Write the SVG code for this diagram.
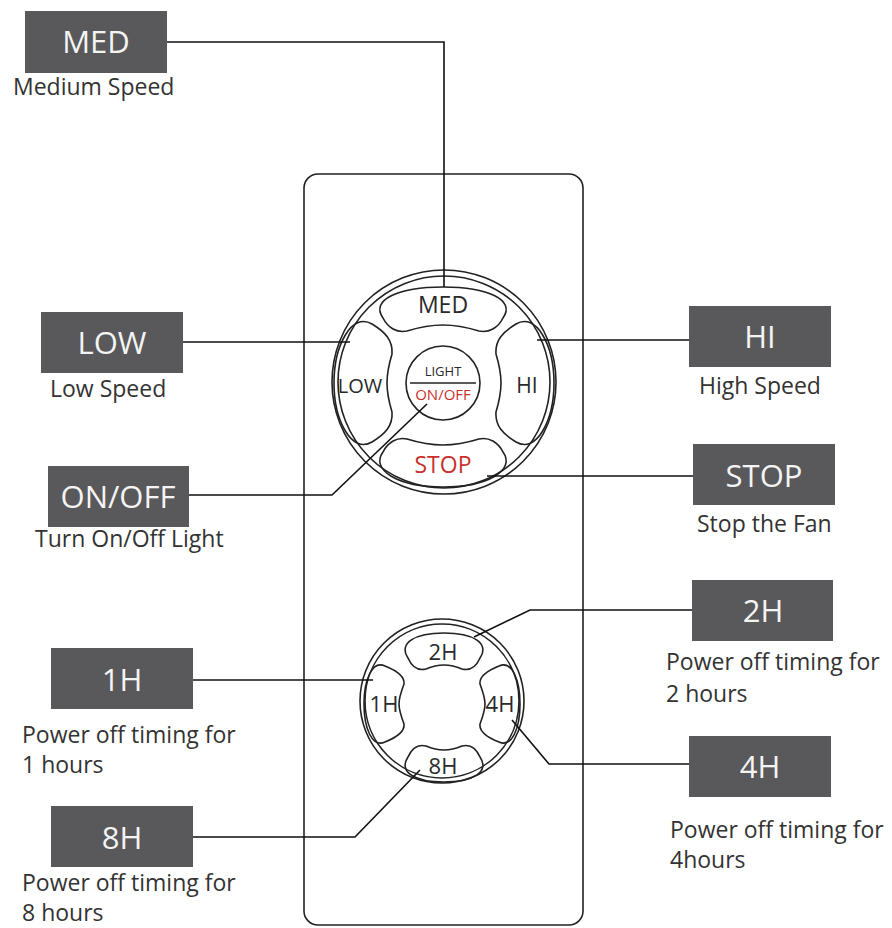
<svg xmlns="http://www.w3.org/2000/svg" width="892" height="928" viewBox="0 0 892 928">
<style>
.box{fill:#59595b}
.bt{font-family:"Open Sans","Liberation Sans",sans-serif;font-size:31px;fill:#f4f4f4;text-anchor:middle}
.ds{font-family:"Open Sans","Liberation Sans",sans-serif;font-size:23px;fill:#333333}
.ln{fill:none;stroke:#111111;stroke-width:1.6}
.sh{fill:none;stroke:#222222;stroke-width:1.6}
.kt{font-family:"Open Sans","Liberation Sans",sans-serif;fill:#2a2a2a;text-anchor:middle}
.red{fill:#c9302c}
</style>
<rect width="892" height="928" fill="#ffffff"/>
<g id="remote">
<rect x="304" y="174" width="279" height="751" rx="14" class="sh" stroke-width="2"/>
<g id="upper-ring">
<circle cx="444" cy="382" r="112" class="sh"/>
<circle cx="444" cy="382" r="106" class="sh"/>
</g>
<g id="btn-med">
<path class="sh" d="M383,318 C370,300 398,287 443,287 C488,287 516,300 503,318 C498,328 489,333 479,331 C466,327 455,325 443,325 C431,325 420,327 407,331 C397,333 388,328 383,318 Z"/>
<text class="kt" x="443" y="313" font-size="23">MED</text>
</g>
<g id="btn-stop">
<path class="sh" d="M383,452 C388,442 397,437 407,439 C420,443 431,445 443,445 C455,445 466,443 479,439 C489,437 498,442 503,452 C516,470 488,487 443,487 C398,487 370,470 383,452 Z"/>
<text class="kt red" x="443" y="473" font-size="23">STOP</text>
</g>
<g id="btn-low">
<path class="sh" d="M372,324 C352,312 334,345 334,383 C334,421 352,454 372,442 C385,434 393,426 392,412 C389,402 387,393 387,383 C387,373 389,364 392,354 C393,340 385,332 372,324 Z"/>
<text class="kt" x="360" y="393" font-size="20">LOW</text>
</g>
<g id="btn-hi">
<path class="sh" d="M516,324 C536,312 554,345 554,383 C554,421 536,454 516,442 C503,434 495,426 496,412 C499,402 501,393 501,383 C501,373 499,364 496,354 C495,340 503,332 516,324 Z"/>
<text class="kt" x="527" y="393" font-size="21">HI</text>
</g>
<g id="btn-light">
<circle cx="443" cy="383" r="37" class="sh"/>
<text class="kt" x="443" y="376" font-size="13">LIGHT</text>
<line x1="410" y1="383" x2="476" y2="383" class="sh"/>
<text class="kt red" x="443" y="400" font-size="15">ON/OFF</text>
</g>
<g id="lower-ring">
<circle cx="442" cy="701" r="82" class="sh"/>
<circle cx="442" cy="701" r="77" class="sh"/>
</g>
<g id="btn-2h">
<path class="sh" d="M408,658 C398,643 415,633 444,633 C473,633 490,643 480,658 C476,667 470,671 462,669 C455,666 450,665 444,665 C438,665 433,666 426,669 C418,671 412,667 408,658 Z"/>
<text class="kt" x="443" y="660" font-size="22">2H</text>
</g>
<g id="btn-8h">
<path class="sh" d="M408,757 C398,772 415,782 444,782 C473,782 490,772 480,757 C476,748 470,744 462,746 C455,749 450,750 444,750 C438,750 433,749 426,746 C418,744 412,748 408,757 Z"/>
<text class="kt" x="443" y="774" font-size="22">8H</text>
</g>
<g id="btn-1h">
<path class="sh" d="M385,666 C372,660 364,680 364,704 C364,728 372,748 385,742 C395,738 405,732 404,724 C401,716 399,710 399,704 C399,698 401,692 404,684 C405,676 395,670 385,666 Z"/>
<text class="kt" x="384" y="712" font-size="22">1H</text>
</g>
<g id="btn-4h">
<path class="sh" d="M499,666 C512,660 520,680 520,704 C520,728 512,748 499,742 C489,738 479,732 480,724 C483,716 485,710 485,704 C485,698 483,692 480,684 C479,676 489,670 499,666 Z"/>
<text class="kt" x="500" y="712" font-size="22">4H</text>
</g>
</g>
<g id="connectors">
<path class="ln" d="M167,42 H444 V287"/>
<path class="ln" d="M183,342 H350"/>
<path class="ln" d="M189,495 H332 L427,404"/>
<path class="ln" d="M689,340 H537"/>
<path class="ln" d="M693,476 H487"/>
<path class="ln" d="M193,680 H373"/>
<path class="ln" d="M193,837 H355 L420,770"/>
<path class="ln" d="M692,610 H530 L474,637"/>
<path class="ln" d="M689,764 H549 L512,720"/>
</g>
<g id="label-med">
<rect class="box" x="25" y="11" width="142" height="62"/>
<text class="bt" x="96" y="53">MED</text>
<text class="ds" x="13" y="95">Medium Speed</text>
</g>
<g id="label-low">
<rect class="box" x="41" y="312" width="142" height="61"/>
<text class="bt" x="112" y="354">LOW</text>
<text class="ds" x="50" y="397">Low Speed</text>
</g>
<g id="label-onoff">
<rect class="box" x="48" y="466" width="141" height="61"/>
<text class="bt" x="118" y="508">ON/OFF</text>
<text class="ds" x="35" y="547">Turn On/Off Light</text>
</g>
<g id="label-hi">
<rect class="box" x="689" y="306" width="142" height="61"/>
<text class="bt" x="760" y="348">HI</text>
<text class="ds" x="699" y="394">High Speed</text>
</g>
<g id="label-stop">
<rect class="box" x="693" y="444" width="142" height="61"/>
<text class="bt" x="764" y="487">STOP</text>
<text class="ds" x="697" y="532">Stop the Fan</text>
</g>
<g id="label-1h">
<rect class="box" x="51" y="648" width="142" height="61"/>
<text class="bt" x="122" y="691">1H</text>
<text class="ds" x="22" y="743">Power off timing for</text>
<text class="ds" x="22" y="773">1 hours</text>
</g>
<g id="label-8h">
<rect class="box" x="51" y="806" width="142" height="61"/>
<text class="bt" x="122" y="849">8H</text>
<text class="ds" x="22" y="891" font-size="22">Power off timing for</text>
<text class="ds" x="22" y="921" font-size="22">8 hours</text>
</g>
<g id="label-2h">
<rect class="box" x="692" y="580" width="141" height="61"/>
<text class="bt" x="763" y="622">2H</text>
<text class="ds" x="666" y="670">Power off timing for</text>
<text class="ds" x="666" y="702">2 hours</text>
</g>
<g id="label-4h">
<rect class="box" x="689" y="736" width="142" height="61"/>
<text class="bt" x="760" y="778">4H</text>
<text class="ds" x="670" y="838">Power off timing for</text>
<text class="ds" x="670" y="868">4hours</text>
</g>
</svg>
